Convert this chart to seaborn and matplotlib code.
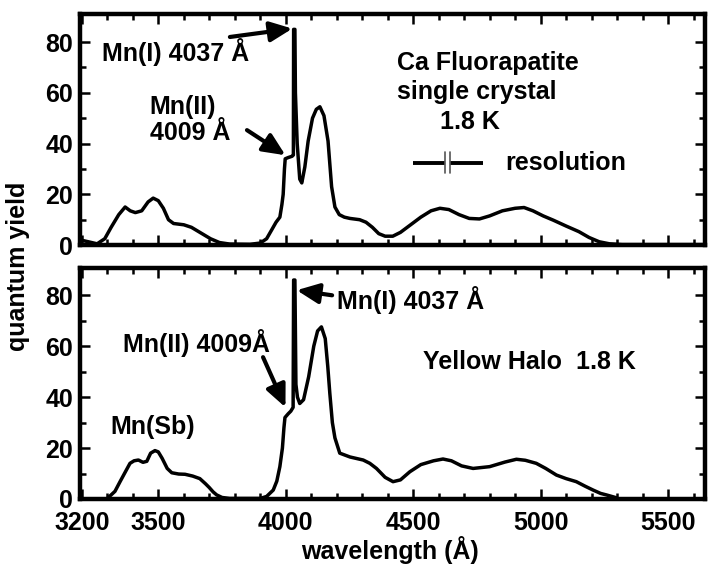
import matplotlib
matplotlib.use("Agg")
import matplotlib.pyplot as plt
import seaborn as sns
import numpy as np

# ---------------- data ----------------
top_wl = [3195, 3230, 3260, 3290, 3315, 3345, 3370, 3390, 3410, 3435, 3460, 3480,
          3500, 3520, 3540, 3560, 3600, 3630, 3655, 3680, 3705, 3740, 3780, 3860,
          3900, 3925, 3945, 3962, 3977, 3985, 3990, 3995, 3998, 4010, 4025, 4030,
          4031, 4036, 4038, 4045, 4055, 4063, 4075, 4088, 4105, 4120, 4134, 4150,
          4166, 4180, 4193, 4210, 4230, 4252, 4290, 4315, 4340, 4365, 4390, 4420,
          4450, 4490, 4530, 4570, 4605, 4640, 4680, 4720, 4760, 4800, 4850, 4900,
          4935, 4970, 5010, 5050, 5100, 5150, 5190, 5230, 5270, 5320, 5640]
top_qy = [2.0, 1.2, 0.5, 2.5, 7, 12, 15, 13.5, 12.8, 13.5, 17, 18.5,
          17.5, 14.5, 10, 8.5, 8, 7, 5.5, 4, 2.5, 1, 0.4, 0.3,
          0.8, 2.5, 6, 9, 11, 16, 20, 30, 34, 34.5, 35, 35.5,
          85, 85, 60, 40, 26, 24.5, 30.8, 41, 50, 53.5, 54.5, 51,
          41, 23, 15, 12, 11, 10.5, 10, 9, 7, 4.5, 3.5, 3.5,
          5, 8, 11, 13.5, 14.5, 14, 12, 10.5, 10.3, 11.5, 13.5, 14.5,
          14.8, 13.5, 11.5, 9.8, 7.5, 5.3, 3, 1.3, 0.5, 0.2, 0.2]

bot_wl = [3300, 3330, 3350, 3370, 3389, 3405, 3422, 3440, 3455, 3470, 3487, 3500,
          3515, 3535, 3553, 3580, 3605, 3635, 3663, 3685, 3700, 3715, 3729, 3750,
          3780, 3900, 3925, 3951, 3965, 3977, 3987, 3993, 3997, 4010, 4020, 4029,
          4031, 4036, 4040, 4046, 4055, 4070, 4090, 4110, 4125, 4140, 4155, 4165,
          4173, 4183, 4193, 4212, 4252, 4304, 4330, 4356, 4390, 4421, 4450, 4487,
          4530, 4580, 4617, 4650, 4690, 4735, 4800, 4860, 4905, 4940, 4983, 5020,
          5062, 5100, 5140, 5175, 5206, 5235, 5258, 5297]
bot_qy = [0.2, 3, 6.8, 10.5, 14, 15, 15.3, 14.4, 14.8, 18, 19, 18.5,
          16, 12, 10.3, 9.8, 9.7, 9, 8, 6, 4.5, 2.8, 1.6, 0.6,
          0.2, 0.2, 1, 3.5, 7, 12.7, 20, 28, 32, 33.5, 34.5, 36,
          86, 86, 45, 40, 37.5, 39, 48, 60, 66, 67.6, 63, 52,
          41.5, 30, 24, 18, 16.5, 15.3, 14, 12, 8.5, 6.8, 7.5, 10.7,
          13.5, 15, 15.7, 15, 13, 12, 12.7, 14.5, 15.6, 15.2, 14, 12,
          9.4, 8, 6.8, 5, 3.5, 2.2, 1.6, 0.5]

x_ticks = [3200, 3500, 4000, 4500, 5000, 5500]
x_tick_labels = ["3200", "3500", "4000", "4500", "5000", "5500"]
y_ticks = [0, 20, 40, 60, 80]
y_tick_labels = ["0", "20", "40", "60", "80"]

# ---------------- style ----------------
sns.set_theme(style="white")
plt.rcParams["font.family"] = ["Liberation Sans", "DejaVu Sans"]
plt.rcParams["font.weight"] = "bold"
for k in ("text.color", "axes.labelcolor", "xtick.color", "ytick.color",
          "axes.edgecolor"):
    plt.rcParams[k] = "black"
FS = 18

fig = plt.figure(figsize=(7.12, 5.66), dpi=100)
ax1 = fig.add_axes([0.1124, 0.567, 0.8778, 0.408])
ax2 = fig.add_axes([0.1124, 0.1184, 0.8778, 0.408])

sns.lineplot(x=top_wl, y=top_qy, ax=ax1, color="black", lw=2.5,
             estimator=None, sort=False)
sns.lineplot(x=bot_wl, y=bot_qy, ax=ax2, color="black", lw=2.5,
             estimator=None, sort=False)

for ax, ytop in ((ax1, 91), (ax2, 90.7)):
    ax.set_xlim(3193, 5645)
    ax.set_ylim(0, ytop)
    ax.set_xticks(x_ticks)
    ax.set_xticks(np.arange(3200, 5700, 100), minor=True)
    ax.set_yticks(y_ticks)
    ax.set_yticklabels(y_tick_labels, fontsize=FS, fontweight="bold", color="black")
    ax.set_yticks(np.arange(0, 90, 10), minor=True)
    ax.tick_params(which="both", direction="in", top=True, right=True,
                   bottom=True, left=True, width=1.8, color="black",
                   labelcolor="black")
    ax.tick_params(which="major", length=7)
    ax.tick_params(which="minor", length=4.5)
    ax.tick_params(axis="y", which="major", pad=5)
    ax.tick_params(axis="x", which="major", pad=9)
    for s in ax.spines.values():
        s.set_linewidth(3.2)
        s.set_color("black")
    ax.set_xlabel("")
    ax.set_ylabel("")

ax1.set_xticklabels([])
ax2.set_xticklabels(x_tick_labels, fontsize=FS, fontweight="bold", color="black")

arrow_kw = dict(arrowstyle="-|>,head_length=0.75,head_width=0.34", lw=3,
                color="black", shrinkA=0, shrinkB=0, mutation_scale=18)
tk = dict(fontsize=FS, fontweight="bold", color="black", va="center", ha="left")

# top panel annotations
ax1.text(3279, 76, "Mn(I) 4037 Å", **tk)
ax1.annotate("", xy=(4026, 85.3), xytext=(3781, 82), arrowprops=arrow_kw)
ax1.text(3467, 54.3, "Mn(II)", **tk)
ax1.text(3467, 44, "4009 Å", **tk)
ax1.annotate("", xy=(3999, 35.4), xytext=(3848, 45.3), arrowprops=arrow_kw)
ax1.text(4437, 71.7, "Ca Fluorapatite", **tk)
ax1.text(4437, 60.2, "single crystal", **tk)
ax1.text(4605, 48.4, "1.8 K", **tk)
ax1.text(4860, 32.3, "resolution", **tk)
# resolution marker
ax1.plot([4499, 4626], [32.3, 32.3], color="black", lw=2.8, solid_capstyle="butt")
ax1.plot([4643, 4773], [32.3, 32.3], color="black", lw=2.8, solid_capstyle="butt")
ax1.plot([4626, 4626], [28.6, 36.5], color="#555555", lw=1.2)
ax1.plot([4643, 4643], [28.6, 36.5], color="#555555", lw=1.2)

# bottom panel annotations
ax2.text(4201, 78, "Mn(I) 4037 Å", **tk)
ax2.annotate("", xy=(4043, 82), xytext=(4182, 80), arrowprops=arrow_kw)
ax2.text(3362, 61.2, "Mn(II) 4009Å", **tk)
ax2.annotate("", xy=(3999, 36), xytext=(3911, 55.7), arrowprops=arrow_kw)
ax2.text(3311, 28.2, "Mn(Sb)", **tk)
ax2.text(4538, 53.7, "Yellow Halo  1.8 K", **tk)

fig.text(0.0253, 0.530, "quantum yield", rotation=90, fontsize=FS,
         fontweight="bold", ha="center", va="center", color="black")
fig.text(0.548, 0.028, "wavelength (Å)", fontsize=FS, fontweight="bold",
         ha="center", va="center", color="black")

fig.savefig("out.png", dpi=100, facecolor="white")
